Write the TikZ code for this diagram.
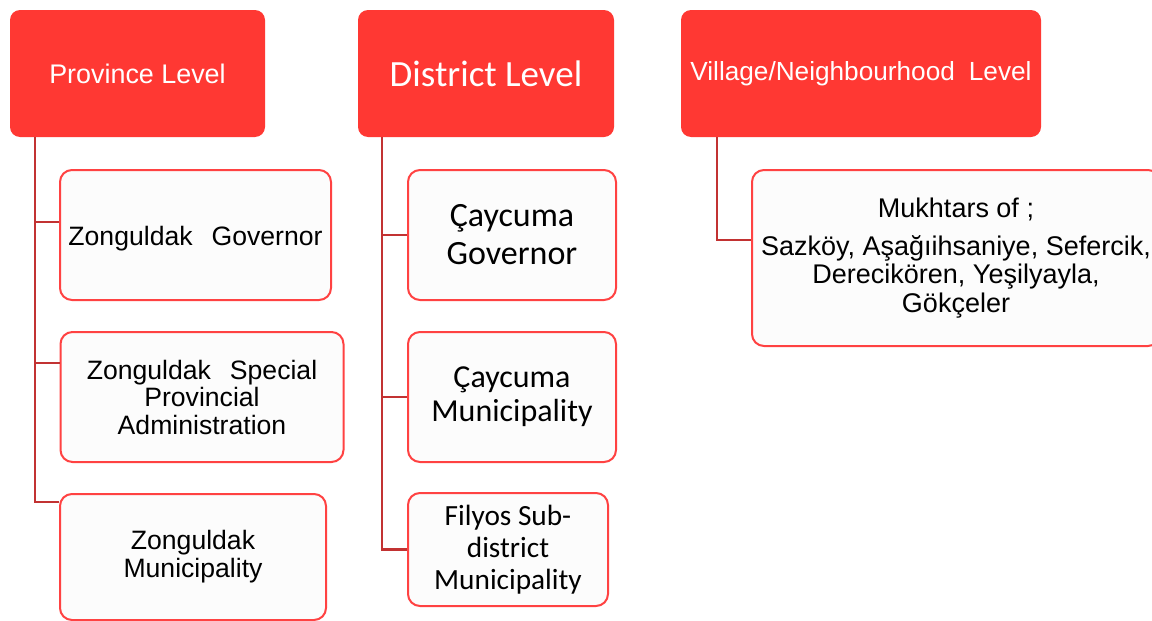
\documentclass[tikz,border=0pt]{standalone}
\usepackage{fontspec}
\setmainfont{Liberation Sans}
\newfontfamily\calibri{Carlito}
\definecolor{hdrred}{HTML}{FF3833}
\definecolor{bordred}{HTML}{FF4242}
\definecolor{linkred}{HTML}{C23232}
\definecolor{boxfill}{HTML}{FCFCFC}
\begin{document}
\begin{tikzpicture}[x=1pt,y=-1pt,
  hdr/.style={fill=hdrred, draw=none, rounded corners=10pt, text=white, align=center, inner sep=0pt},
  child/.style={fill=boxfill, draw=bordred, line width=2pt, rounded corners=12pt, align=center, inner sep=0pt, text=black},
  link/.style={draw=linkred, line width=2.4pt}]
\useasboundingbox (0,0) rectangle (1152,621);
% headers
\node[hdr, minimum width=255pt, minimum height=127pt, font=\fontsize{26.9}{30}\selectfont] (P) at (137.5,73.5) {Province Level};
\node[hdr, minimum width=256pt, minimum height=127pt, font=\calibri\fontsize{37}{42}\selectfont] (D) at (486,73.5) {District Level};
\node[hdr, minimum width=360pt, minimum height=127pt, font=\fontsize{26.2}{30}\selectfont] (V) at (861,73.5) {Village/Neighbourhood\hspace{14pt}Level};
% province children
\node[child, minimum width=271pt, minimum height=130pt, text height=26pt, text depth=6pt, font=\fontsize{26.6}{28}\selectfont] (ZG) at (195.5,235) {Zonguldak\hspace{19pt}Governor};
\node[child, minimum width=283pt, minimum height=130pt, font=\fontsize{26.6}{27.5}\selectfont] (ZS) at (202,397) {Zonguldak\hspace{19pt}Special\\Provincial\\Administration};
\node[child, minimum width=266pt, minimum height=126pt, font=\fontsize{26.6}{28}\selectfont] (ZM) at (193,557) {Zonguldak\\Municipality};
% district children
\node[child, minimum width=208pt, minimum height=130pt, font=\calibri\fontsize{34}{38}\selectfont] (CG) at (512,235) {Çaycuma\\Governor};
\node[child, minimum width=208pt, minimum height=130pt, font=\calibri\fontsize{32}{34}\selectfont] (CM) at (512,397) {Çaycuma\\Municipality};
\node[child, minimum width=200pt, minimum height=113pt, font=\calibri\fontsize{29.3}{32}\selectfont] (FS) at (508,549.5) {Filyos Sub-\\district\\Municipality};
% village child
\node[child, minimum width=408pt, minimum height=176pt, font=\fontsize{27}{28.5}\selectfont] (MU) at (956,258) {Mukhtars of ;\\[9pt]Sazköy, Aşağıihsaniye, Sefercik,\\Derecikören, Yeşilyayla,\\Gökçeler};
% connectors
\coordinate (p0) at ([xshift=25pt]P.south west);
\coordinate (d0) at ([xshift=24pt]D.south west);
\coordinate (v0) at ([xshift=36pt]V.south west);
\draw[link] (p0) |- (ZG.west |- 0,222);
\draw[link] (p0) |- (ZS.west |- 0,363);
\draw[link] (p0) |- (ZM.west |- 0,502);
\draw[link] (d0) |- (CG.west);
\draw[link] (d0) |- (CM.west);
\draw[link] (d0) |- (FS.west);
\draw[link] (v0) |- (MU.west |- 0,240);
\end{tikzpicture}
\end{document}
